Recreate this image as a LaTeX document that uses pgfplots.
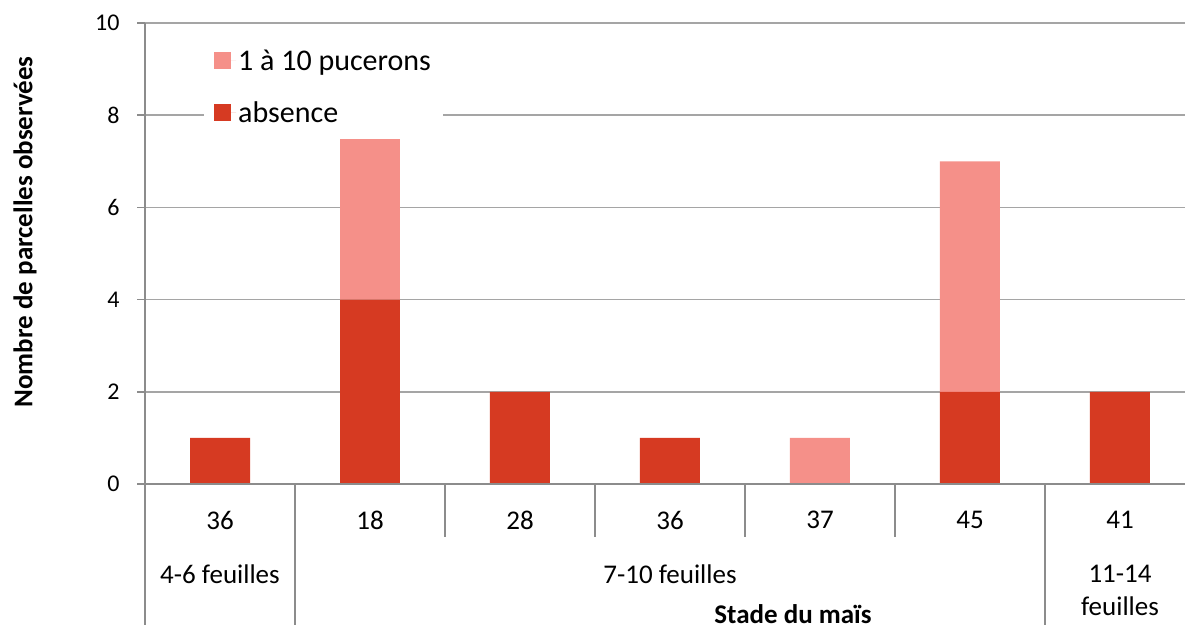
\documentclass[border=0pt]{standalone}
\usepackage{pgfplots}
\pgfplotsset{compat=1.18}
\usepackage{fontspec}
\setmainfont{Carlito}
\definecolor{absc}{RGB}{214,58,34}
\definecolor{puc}{RGB}{245,144,137}
\definecolor{gridc}{RGB}{165,165,165}
\definecolor{axc}{RGB}{140,140,140}
\begin{document}
\begin{tikzpicture}[x=1bp,y=1bp]
\useasboundingbox (0,0) rectangle (1185,629);
\begin{axis}[
  at={(145bp,145bp)}, anchor=south west,
  scale only axis, width=1040bp, height=461bp,
  xmin=-0.5, xmax=6.43333, ymin=0, ymax=10,
  ybar stacked, bar width=0.4,
  axis line style={draw=none},
  xtick={0,...,6}, xticklabels={36,18,28,36,37,45,41},
  xtick style={draw=none},
  xticklabel style={anchor=center, yshift=-28bp, font=\fontsize{27bp}{32bp}\selectfont},
  ytick={0,2,...,10}, ytick pos=left,
  tick align=outside, major tick length=8bp,
  ytick style={axc, line width=1.5bp},
  yticklabel style={font=\fontsize{24bp}{28bp}\selectfont, xshift=-14bp},
  /pgf/number format/assume math mode=true,
  ymajorgrids, grid style={gridc, line width=1.5bp},
  every axis y label/.style={at={(rel axis cs:-0.11538,0.547)}, rotate=90, anchor=center, font=\fontsize{27bp}{32bp}\selectfont\bfseries},
  ylabel={Nombre de parcelles observées},
  legend style={at={(rel axis cs:0.0567,0.975)}, anchor=north west, draw=none, fill=white,
    font=\fontsize{30bp}{36bp}\selectfont, inner xsep=10bp, inner ysep=0bp,
    row sep=0bp, nodes={minimum height=52bp}, legend cell align=left},
  legend image code/.code={\fill[#1] (0bp,-8.5bp) rectangle (17bp,8.5bp); \path (0bp,0bp) -- (22bp,0bp);},
  reverse legend,
]
\addplot[fill=absc, draw=none] coordinates {(0,1)(1,4)(2,2)(3,1)(4,0)(5,2)(6,2)};
\addplot[fill=puc, draw=none] coordinates {(0,0)(1,3.5)(2,0)(3,0)(4,1)(5,5)(6,0)};
\legend{absence, 1 à 10 pucerons}
\end{axis}
\draw[axc, line width=1.5] (145,4) -- (145,606);
\draw[axc, line width=1.5] (145,145) -- (1185,145);
\foreach \x in {295,1045} \draw[axc, line width=1.5] (\x,145) -- (\x,4);
\foreach \x in {445,595,745,895} \draw[axc, line width=1.5] (\x,145) -- (\x,92);
\node[font=\fontsize{27bp}{32bp}\selectfont] at (220,55) {4-6 feuilles};
\node[font=\fontsize{27bp}{32bp}\selectfont] at (670,55) {7-10 feuilles};
\node[font=\fontsize{27bp}{33bp}\selectfont, align=center] at (1120,39) {11-14\\feuilles};
\node[font=\fontsize{27bp}{32bp}\selectfont\bfseries] at (793,15) {Stade du maïs};
\end{tikzpicture}
\end{document}
